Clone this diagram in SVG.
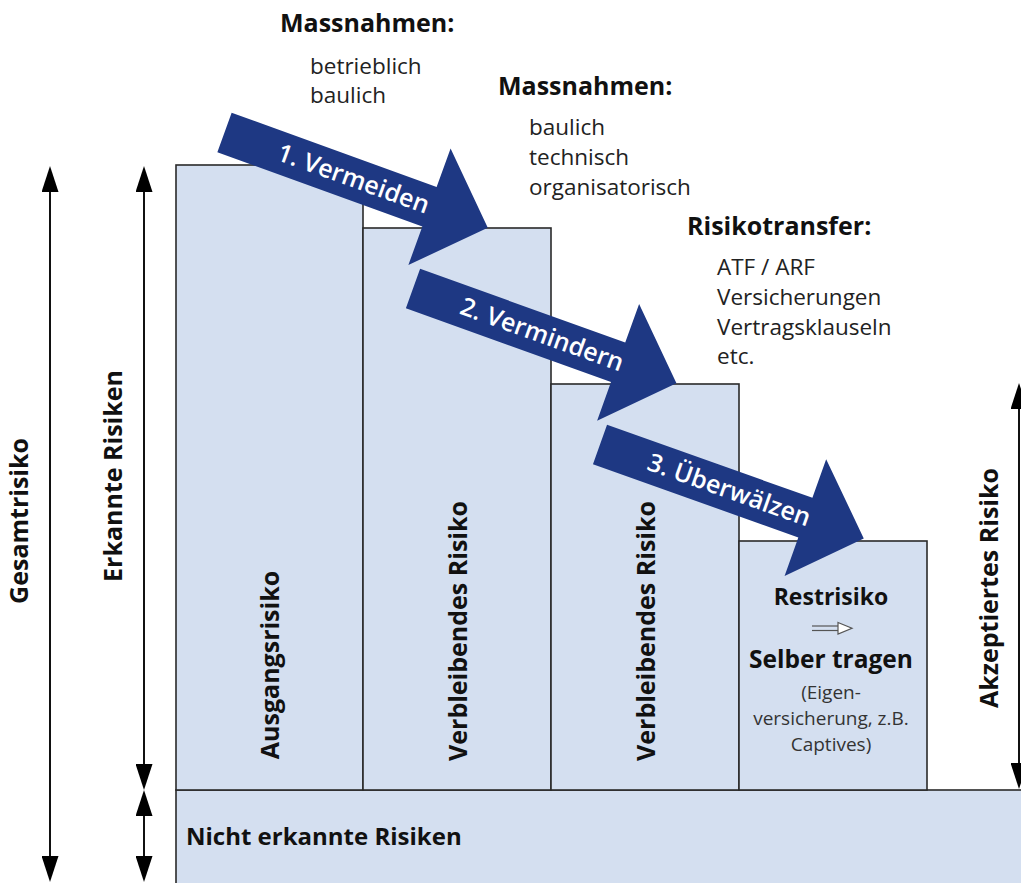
<svg xmlns="http://www.w3.org/2000/svg" width="1021" height="883" viewBox="0 0 1021 883">
<style>
.box{fill:#d4dff0;stroke:#2a2a2a;stroke-width:1.6}
.arr{fill:#1e3883}
.atxt{font-family:"Open Sans","Liberation Sans",sans-serif;font-weight:600;font-size:25px;fill:#ffffff}
.h{font-family:"Open Sans","Liberation Sans",sans-serif;font-weight:700;font-size:25px;fill:#111}
.r{font-family:"Open Sans","Liberation Sans",sans-serif;font-size:22.5px;fill:#222}
.b{font-family:"Open Sans","Liberation Sans",sans-serif;font-weight:700;font-size:25px;fill:#111}
.s{font-family:"Open Sans","Liberation Sans",sans-serif;font-size:19px;fill:#333}
.dim{stroke:#111;stroke-width:2;fill:none;marker-start:url(#ah);marker-end:url(#ah)}
</style>
<defs>
<marker id="ah" markerUnits="userSpaceOnUse" markerWidth="26" markerHeight="17" refX="21" refY="8.5" orient="auto-start-reverse">
<path d="M0,0 L26,8.5 L0,17 Z" fill="#000"/>
</marker>
<path id="bigArrow" d="M0,-21 L218,-21 L218,-62 L280,0 L218,62 L218,21 L0,21 Z"/>
</defs>
<rect width="1021" height="883" fill="#ffffff"/>

<g id="box-nicht-erkannt">
<rect class="box" x="176" y="790" width="870" height="110"/>
<text class="b" x="186" y="845" style="font-size:24px">Nicht erkannte Risiken</text>
</g>
<g id="box-ausgangsrisiko">
<rect class="box" x="176" y="165" width="187" height="625"/>
<text class="b" transform="translate(279,665) rotate(-90)" text-anchor="middle">Ausgangsrisiko</text>
</g>
<g id="box-verbleibend-1">
<rect class="box" x="363" y="228" width="188" height="562"/>
<text class="b" transform="translate(467,631) rotate(-90)" text-anchor="middle">Verbleibendes Risiko</text>
</g>
<g id="box-verbleibend-2">
<rect class="box" x="551" y="384" width="188" height="406"/>
<text class="b" transform="translate(655,631) rotate(-90)" text-anchor="middle">Verbleibendes Risiko</text>
</g>
<g id="box-restrisiko">
<rect class="box" x="739" y="541" width="188" height="249"/>
<text class="b" x="831" y="605" text-anchor="middle" style="font-size:23px">Restrisiko</text>
<g stroke="#555" stroke-width="1.2" fill="none">
<line x1="812" y1="626" x2="840" y2="626"/>
<line x1="812" y1="630.5" x2="840" y2="630.5"/>
<path d="M838,622.5 L852,628.2 L838,634 Z" fill="#fff"/>
</g>
<text class="b" x="831" y="668" text-anchor="middle" style="font-size:24.5px">Selber tragen</text>
<text class="s" x="831" y="699" text-anchor="middle">(Eigen-</text>
<text class="s" x="831" y="725" text-anchor="middle">versicherung, z.B.</text>
<text class="s" x="831" y="751" text-anchor="middle">Captives)</text>
</g>

<g id="arrow-vermeiden" transform="translate(224.5,132.5) rotate(19.9)">
<use href="#bigArrow" class="arr"/>
<text class="atxt" x="137" y="8" text-anchor="middle">1. Vermeiden</text>
</g>
<g id="arrow-vermindern" transform="translate(413,288.5) rotate(19.8)">
<use href="#bigArrow" class="arr"/>
<text class="atxt" x="137" y="8" text-anchor="middle">2. Vermindern</text>
</g>
<g id="arrow-ueberwaelzen" transform="translate(600,444.5) rotate(19.6)">
<use href="#bigArrow" class="arr"/>
<text class="atxt" x="137" y="8" text-anchor="middle">3. Überwälzen</text>
</g>

<g id="label-massnahmen-1">
<text class="h" x="280" y="32">Massnahmen:</text>
<text class="r" x="310" y="74">betrieblich</text>
<text class="r" x="310" y="103">baulich</text>
</g>
<g id="label-massnahmen-2">
<text class="h" x="498" y="95">Massnahmen:</text>
<text class="r" x="529" y="135">baulich</text>
<text class="r" x="529" y="165">technisch</text>
<text class="r" x="529" y="195">organisatorisch</text>
</g>
<g id="label-risikotransfer">
<text class="h" x="687" y="235">Risikotransfer:</text>
<text class="r" x="717" y="275">ATF / ARF</text>
<text class="r" x="717" y="305">Versicherungen</text>
<text class="r" x="717" y="335">Vertragsklauseln</text>
<text class="r" x="717" y="364">etc.</text>
</g>

<g id="connectors">
<line class="dim" x1="50" y1="171" x2="50" y2="877"/>
<line class="dim" x1="144" y1="171" x2="144" y2="785"/>
<line class="dim" x1="144" y1="795" x2="144" y2="877"/>
<line class="dim" x1="1019" y1="388" x2="1019" y2="784"/>
</g>
<g id="dim-labels">
<text class="b" transform="translate(28,521) rotate(-90)" text-anchor="middle">Gesamtrisiko</text>
<text class="b" transform="translate(122,476) rotate(-90)" text-anchor="middle">Erkannte Risiken</text>
<text class="b" transform="translate(998,588) rotate(-90)" text-anchor="middle">Akzeptiertes Risiko</text>
</g>
</svg>
